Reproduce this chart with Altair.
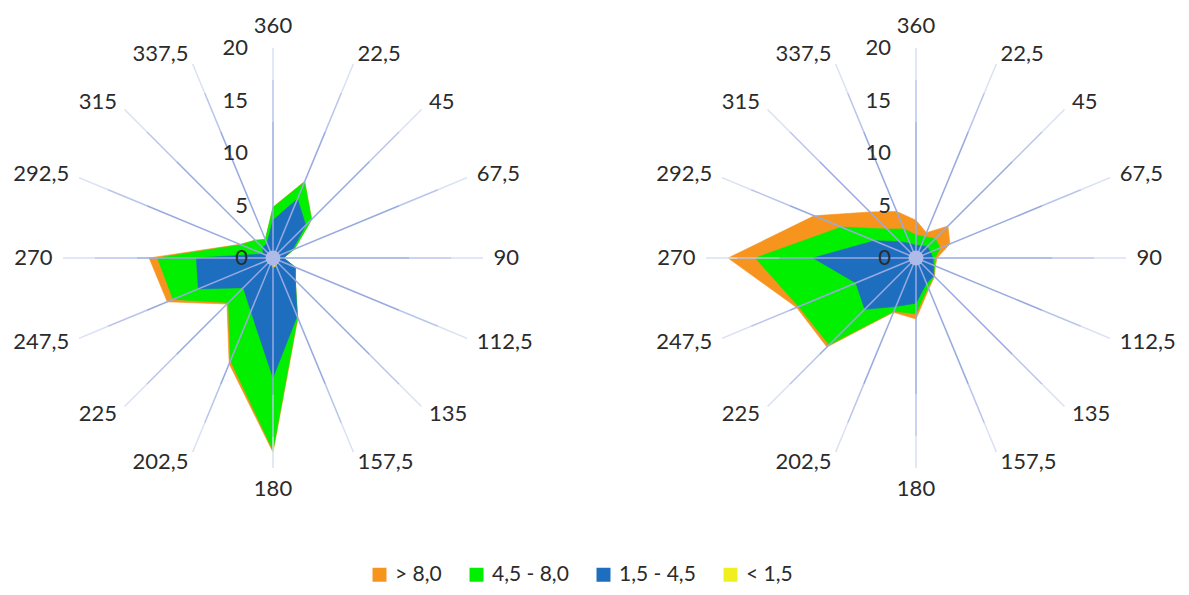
import altair as alt
import pandas as pd

# ---------------- data ----------------
directions = ["360", "22,5", "45", "67,5", "90", "112,5", "135", "157,5",
              "180", "202,5", "225", "247,5", "270", "292,5", "315", "337,5"]
angles = [0, 22.5, 45, 67.5, 90, 112.5, 135, 157.5,
          180, 202.5, 225, 247.5, 270, 292.5, 315, 337.5]
series_names = ["> 8,0", "4,5 - 8,0", "1,5 - 4,5", "< 1,5"]
series_colors = ["#F7941E", "#00F000", "#1E6EC0", "#F0F020"]
radial_ticks = [0, 5, 10, 15, 20]

# left rose
left_gt8 = [4.85, 7.9, 5.2, 2.2, 1.0, 2.3, 3.0, 6.2, 18.5, 10.9, 6.2, 10.9, 11.8, 3.4, 2.4, 1.9]
left_45_80 = [4.8, 7.85, 5.2, 2.2, 1.0, 2.3, 3.0, 6.1, 18.3, 10.6, 6.0, 10.3, 11.0, 3.3, 2.4, 1.9]
left_15_45 = [3.6, 6.1, 4.4, 2.0, 1.0, 2.3, 3.0, 6.0, 11.4, 5.5, 4.0, 7.7, 7.3, 1.0, 1.4, 1.5]
left_lt15 = [0.2, 0.3, 0.2, 0.2, 0.2, 0.4, 0.6, 0.8, 0.9, 0.5, 0.3, 0.3, 0.3, 0.2, 0.2, 0.2]

# right rose
right_gt8 = [3.6, 2.6, 4.3, 3.5, 2.0, 2.0, 2.5, 3.2, 5.8, 5.6, 12.0, 12.3, 17.9, 10.5, 6.2, 4.8]
right_45_80 = [2.2, 2.2, 2.6, 2.5, 1.8, 1.9, 2.4, 3.0, 5.3, 5.5, 11.7, 12.1, 15.3, 7.7, 3.9, 3.0]
right_15_45 = [1.2, 1.3, 1.5, 1.5, 1.6, 1.8, 2.4, 2.6, 4.3, 5.0, 6.9, 6.2, 9.8, 4.3, 2.2, 1.5]
right_lt15 = [0.3, 0.3, 0.3, 0.3, 0.3, 0.3, 0.4, 0.4, 0.5, 0.5, 0.6, 0.6, 0.7, 0.5, 0.4, 0.3]

# ---------------- layout ----------------
W, H = 1173, 579
PX = 10.5                     # pixels per unit
CXL, CXR, CY = 265, 908, 250  # centres of the two roses (pixels in the plot area)
x_dom = [-CXL / PX, (W - CXL) / PX]
y_dom = [-(H - CY) / PX, CY / PX]
OFF_R = (CXR - CXL) / PX
LABEL_R = 21.0
FONT = "Lato"
TXT = "#2b2b2b"

rows = []
for panel, sets in [("A", [left_gt8, left_45_80, left_15_45, left_lt15]),
                    ("B", [right_gt8, right_45_80, right_15_45, right_lt15])]:
    for s, vals in zip(series_names, sets):
        for d, a, v in zip(directions, angles, vals):
            rows.append(dict(panel=panel, series=s, dir=d, angle=a, value=v))
poly = pd.DataFrame(rows)

spokes = pd.DataFrame([dict(panel=p, dir=d, angle=a) for p in ["A", "B"]
                       for d, a in zip(directions, angles)])
ticks = pd.DataFrame([dict(panel=p, value=v, lab=str(v)) for p in ["A", "B"] for v in radial_ticks])
centres = pd.DataFrame([dict(panel=p) for p in ["A", "B"]])

cx_expr = f"datum.panel == 'A' ? 0 : {OFF_R}"
xs = alt.Scale(domain=x_dom, nice=False, zero=False)
ys = alt.Scale(domain=y_dom, nice=False, zero=False)
X = alt.X("px:Q", scale=xs, axis=None)
Y = alt.Y("py:Q", scale=ys, axis=None)


def polar(ch, r_expr, xn="px", yn="py"):
    return ch.transform_calculate(cx=cx_expr).transform_calculate(
        **{xn: f"datum.cx + ({r_expr})*sin(datum.angle*PI/180)",
           yn: f"({r_expr})*cos(datum.angle*PI/180)"})


layers = []
# filled polygons, outermost class first
for s, c in zip(series_names, series_colors):
    layers.append(
        polar(alt.Chart(poly).transform_filter(alt.datum.series == s), "datum.value")
        .mark_line(interpolate="linear-closed", fill=c, stroke=c, strokeWidth=0.6)
        .encode(x=X, y=Y, order=alt.Order("angle:Q"), detail="panel:N")
    )

# spokes (fading towards the outside)
for r0, r1, col in [(0, 13, "#98AADF"), (13, 17, "#B9C5EA"), (17, 20, "#DAE1F3")]:
    layers.append(
        polar(polar(alt.Chart(spokes), str(r0)), str(r1), "px2", "py2")
        .mark_rule(strokeWidth=1.5, color=col)
        .encode(x=X, y=Y, x2="px2:Q", y2="py2:Q")
    )

# centre blob
layers.append(
    alt.Chart(centres).transform_calculate(px=cx_expr, py="0")
    .mark_circle(size=220, color="#AEBBE8", opacity=1)
    .encode(x=X, y=Y)
)

# radial tick labels
layers.append(
    alt.Chart(ticks).transform_calculate(px=cx_expr, py="datum.value")
    .mark_text(align="right", baseline="middle", dx=-25, fontSize=22, font=FONT, color=TXT)
    .encode(x=X, y=Y, text="lab:N")
)

# direction labels
lab_base = polar(alt.Chart(spokes), str(LABEL_R))
for cond, al, bl in [("sin(datum.angle*PI/180) > 0.1", "left", "middle"),
                     ("sin(datum.angle*PI/180) < -0.1", "right", "middle"),
                     ("abs(sin(datum.angle*PI/180)) <= 0.1 && cos(datum.angle*PI/180) > 0", "center", "bottom"),
                     ("abs(sin(datum.angle*PI/180)) <= 0.1 && cos(datum.angle*PI/180) < 0", "center", "top")]:
    layers.append(
        lab_base.transform_filter(cond)
        .mark_text(align=al, baseline=bl, fontSize=22, font=FONT, color=TXT)
        .encode(x=X, y=Y, text="dir:N")
    )

# legend (driven by the colour scale)
layers.append(
    alt.Chart(poly).transform_filter("false").transform_calculate(px="0", py="0")
    .mark_square(size=196, opacity=1)
    .encode(x=X, y=Y,
            color=alt.Color("series:N",
                            scale=alt.Scale(domain=series_names, range=series_colors),
                            legend=alt.Legend(orient="none", legendX=361, legendY=556,
                                              direction="horizontal", title=None,
                                              symbolType="square", symbolSize=196,
                                              symbolStrokeWidth=0,
                                              labelFontSize=21, labelFont=FONT,
                                              labelColor=TXT, columnPadding=24,
                                              labelOffset=5)))
)

chart = alt.layer(*layers).properties(
    width=W, height=H, padding=0,
    autosize=alt.AutoSizeParams(type="none"),
).configure_view(stroke=None)

chart.save("out.html", embed_options={"renderer": "svg", "actions": False})
